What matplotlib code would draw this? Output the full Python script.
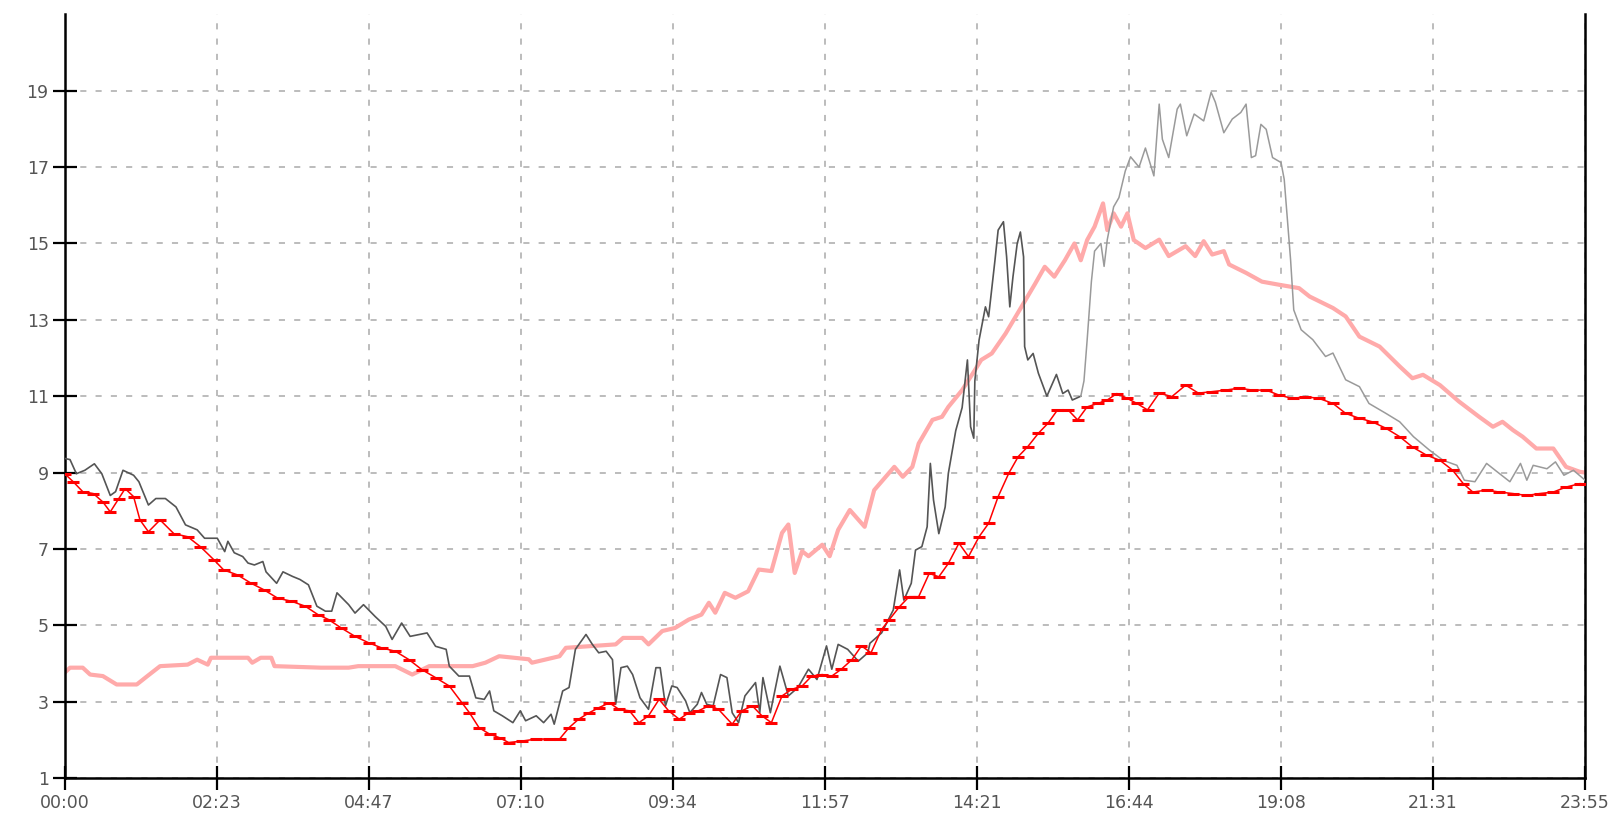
# daily temperature trace: indoor/outdoor sensors, 5-min samples
import numpy as np
import matplotlib; matplotlib.use("Agg"); import matplotlib.pyplot as plt

xticklabels = ["00:00","02:23","04:47","07:10","09:34","11:57","14:21","16:44","19:08","21:31","23:55"]
yticks = [1,3,5,7,9,11,13,15,17,19]

# dark grey sensor (minutes since midnight, value)
dark_t = [0,5,11,19,28,35,43,48,55,65,70,79,86,95,105,114,125,132,144,151,154,160,168,173,179,187,190,200,206,215,
          222,230,238,246,252,257,268,274,282,293,303,309,318,326,342,350,360,363,372,382,
          388,396,401,405,413,423,430,435,445,452,459,462,470,476,482,492,498,504,511,517,520,525,531,536,543,551,
          558,562,567,573,578,586,590,597,601,606,612,619,625,630,636,642,652,656,659,666,675,683,692,702,710,719,
          724,730,739,749,758,760,771,782,788,792,799,803,809,814,817,820,825,831,834,841,847,852,855,858,859,863,
          869,872,878,881,886,889,892,895,899,902,905,906,909,914,919,927,936,942,947,951,959]
dark_v = [9.37,9.34,8.97,9.06,9.23,8.97,8.4,8.5,9.06,8.93,8.76,8.15,8.32,8.32,8.1,7.63,7.5,7.28,7.28,6.93,7.2,6.9,6.8,6.63,
          6.58,6.67,6.4,6.1,6.4,6.28,6.2,6.06,5.5,5.37,5.37,5.85,5.54,5.32,5.54,5.23,4.97,4.63,5.06,4.71,4.8,4.45,4.37,
          3.93,3.67,3.67,
          3.1,3.06,3.28,2.76,2.63,2.45,2.76,2.5,2.63,2.45,2.67,2.41,3.28,3.37,4.37,4.76,4.5,4.28,4.32,4.1,2.93,3.89,3.93,
          3.71,3.1,2.8,3.89,3.89,2.89,3.41,3.37,3.02,2.71,2.93,3.24,2.93,2.89,3.71,3.63,2.71,2.45,3.15,3.5,2.71,3.63,
          2.71,3.93,3.15,3.37,3.85,3.58,4.46,3.85,4.5,4.37,4.06,4.28,4.53,4.8,5.4,6.45,5.66,6.1,6.97,7.06,7.58,9.24,
          8.28,7.4,8.1,8.98,10.1,10.7,11.95,10.2,9.9,11.4,12.47,13.34,13.08,14.56,15.35,15.57,14.65,13.34,14.13,15.0,
          15.3,14.65,12.3,11.95,12.12,11.6,11.0,11.57,11.07,11.16,10.9,11.0]

# light grey sensor, evening part
light_t = [959,962,965,969,972,978,981,984,990,995,1001,1006,1014,1020,1028,1033,1036,1042,1050,1053,1059,1066,1075,
           1082,1086,1094,1102,1110,1115,1120,1124,1129,1134,1140,1148,1151,1154,1157,1160,1167,1178,1190,1197,1203,
           1209,1222,1231,1247,1260,1273,1288,1301,1314,1321,1331,1342,1352,1364,1374,1380,1386,1399,1407,1415,1424,1435]
light_v = [11.0,11.4,12.47,14.0,14.8,15.0,14.4,15.1,15.96,16.2,16.9,17.27,17.0,17.5,16.77,18.65,17.73,17.25,18.52,18.65,
           17.82,18.39,18.21,18.96,18.7,17.9,18.26,18.43,18.65,17.25,17.3,18.12,17.99,17.25,17.12,16.68,15.63,14.58,
           13.26,12.74,12.48,12.04,12.13,11.78,11.43,11.25,10.81,10.55,10.33,9.94,9.59,9.32,9.19,8.8,8.76,9.24,9.02,
           8.76,9.24,8.8,9.19,9.1,9.28,8.93,9.06,8.8]

# pink (thick) series
pink_t = [0,5,17,24,36,49,68,78,90,116,125,135,138,147,173,177,185,195,198,242,268,277,312,328,344,385,
          397,410,438,441,467,473,520,527,545,551,564,576,589,601,608,614,623,633,645,655,667,677,683,689,696,702,
          715,722,730,741,755,764,783,791,800,806,819,828,834,847,859,865,875,888,903,916,925,934,944,953,959,965,
          972,980,984,990,997,1003,1009,1020,1033,1042,1058,1067,1075,1083,1094,1099,1115,1130,1146,1165,1175,1197,
          1209,1222,1241,1260,1272,1282,1298,1316,1335,1348,1357,1367,1376,1389,1405,1417,1430,1435]
pink_v = [3.76,3.89,3.89,3.71,3.67,3.45,3.45,3.67,3.93,3.97,4.1,3.97,4.15,4.15,4.15,4.02,4.15,4.15,3.93,3.89,3.89,3.93,
          3.93,3.71,3.93,3.93,
          4.02,4.19,4.11,4.02,4.19,4.41,4.5,4.67,4.67,4.5,4.85,4.93,5.15,5.28,5.59,5.33,5.85,5.72,5.89,6.46,6.42,7.42,
          7.64,6.37,6.94,6.81,7.11,6.81,7.5,8.02,7.58,8.54,9.15,8.89,9.15,9.76,10.38,10.46,10.72,11.16,11.68,11.95,
          12.12,12.64,13.34,13.95,14.39,14.13,14.56,15.0,14.56,15.09,15.44,16.05,15.35,15.79,15.44,15.79,15.09,14.88,
          15.1,14.67,14.93,14.67,15.06,14.71,14.8,14.45,14.23,14.0,13.92,13.83,13.61,13.31,13.09,12.56,12.3,11.78,
          11.47,11.56,11.29,10.86,10.46,10.2,10.33,10.11,9.94,9.63,9.63,9.15,9.02,9.0]

# red series (drawn with tick markers)
red_t = [0,8,17,27,36,43,51,57,65,71,79,90,103,116,128,141,150,163,176,188,201,214,227,239,249,261,274,287,299,312,325,
         337,350,363,375,382,391,401,410,419,432,445,457,467,476,485,495,504,514,523,533,542,551,561,570,580,589,598,
         608,617,630,639,649,658,667,677,686,696,705,715,724,733,743,752,761,771,778,788,797,806,816,825,834,844,853,
         863,872,881,891,900,909,919,928,937,947,956,965,975,984,993,1003,1012,1022,1033,1045,1058,1070,1083,1096,1108,
         1121,1134,1146,1159,1171,1184,1197,1209,1222,1234,1247,1260,1272,1285,1298,1310,1320,1329,1342,1354,1367,
         1380,1392,1405,1417,1430,1435]
red_v = [8.97,8.76,8.5,8.45,8.23,7.97,8.32,8.58,8.37,7.76,7.45,7.76,7.4,7.32,7.06,6.71,6.45,6.32,6.1,5.93,5.71,5.63,5.5,
         5.28,5.15,4.93,4.71,4.54,4.41,4.32,4.1,3.84,3.63,3.41,2.97,2.71,2.32,2.15,2.06,1.93,1.97,2.02,2.02,2.02,2.32,
         2.54,2.71,2.84,2.97,2.8,2.76,2.45,2.63,3.06,2.76,2.54,2.71,2.76,2.89,2.8,2.41,2.76,2.89,2.63,2.45,3.15,3.32,
         3.41,3.67,3.71,3.67,3.85,4.1,4.46,4.28,4.89,5.14,5.49,5.75,5.75,6.36,6.27,6.62,7.15,6.8,7.32,7.67,8.37,8.98,
         9.42,9.68,10.03,10.29,10.64,10.64,10.38,10.72,10.81,10.9,11.07,10.94,10.81,10.64,11.08,10.99,11.29,11.08,
         11.12,11.16,11.21,11.16,11.16,11.03,10.94,10.99,10.94,10.81,10.55,10.42,10.33,10.16,9.94,9.67,9.46,9.32,
         9.06,8.71,8.49,8.54,8.49,8.45,8.4,8.45,8.49,8.62,8.71,8.7]

fig = plt.figure(figsize=(16.14, 8.22), dpi=100)
ax = fig.add_axes([0.0401, 0.0535, 0.942, 0.929])
ax.grid(True, color="#aaaaaa", lw=1.1, dashes=(4, 6), zorder=0)

ax.plot(pink_t, pink_v, color="#ffaaaa", lw=3.0, zorder=2)
ax.plot(dark_t, dark_v, color="#555555", lw=1.2, zorder=3)
ax.plot(light_t, light_v, color="#9a9a9a", lw=1.1, zorder=3)
ax.plot(red_t, red_v, color="#ff0000", lw=1.1, marker="_", ms=9, mew=2.2, zorder=4)

xt = np.linspace(0, 1435, len(xticklabels))
ax.set_xlim(0, 1435); ax.set_ylim(1, 21)
ax.set_xticks(xt); ax.set_xticklabels(xticklabels)
ax.set_yticks(yticks)
ax.tick_params(direction="inout", length=17, width=1.6, color="black", labelcolor="#555555", labelsize=12.5)
ax.tick_params(axis="x", pad=3); ax.tick_params(axis="y", pad=3)
ax.spines["top"].set_visible(False)
for s in ["left", "right", "bottom"]:
    ax.spines[s].set_linewidth(1.8)
plt.savefig("out.png", dpi=100)
